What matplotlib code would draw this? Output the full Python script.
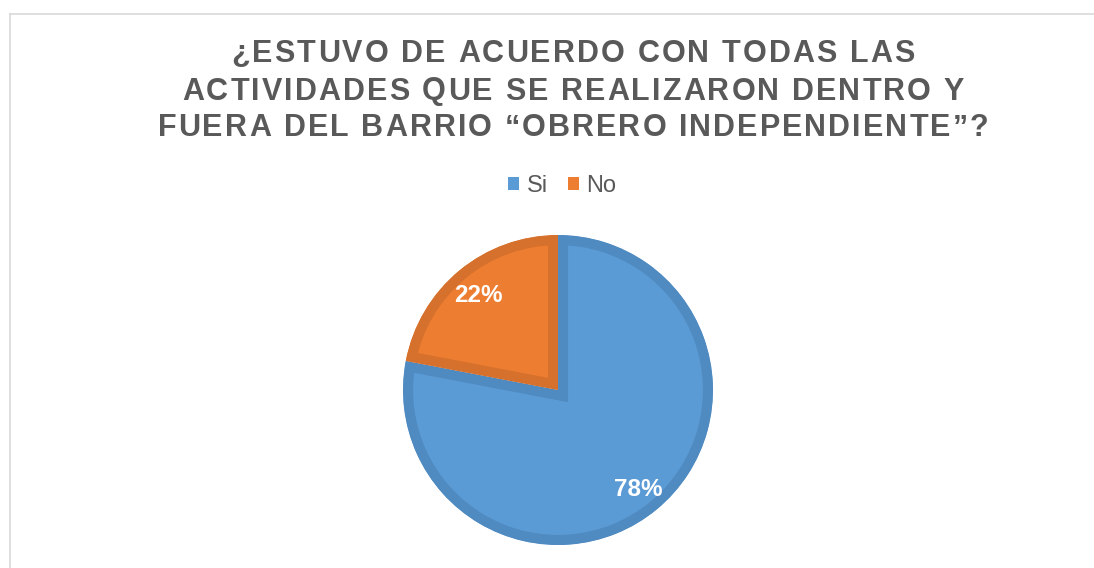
import matplotlib
matplotlib.use("Agg")
import matplotlib.pyplot as plt
from matplotlib.patches import Patch
from matplotlib.lines import Line2D
from matplotlib.font_manager import FontProperties

# data
labels = ["Si", "No"]
values = [78, 22]
title_lines = [
    "¿ESTUVO DE ACUERDO CON TODAS LAS",
    "ACTIVIDADES QUE SE REALIZARON DENTRO Y",
    "FUERA DEL BARRIO “OBRERO INDEPENDIENTE”?",
]

fill_colors = ["#5B9BD5", "#ED7D31"]
edge_colors = ["#4F8AC1", "#D5712C"]
text_gray = "#595959"

W, H = 1094, 568
fig = plt.figure(figsize=(W / 100, H / 100), dpi=100)

# chart frame (only left and top edges visible in the crop)
fig.add_artist(Line2D([9.5 / W, 9.5 / W], [0, 1 - 13.5 / H], transform=fig.transFigure,
                      color="#D9D9D9", lw=1.2))
fig.add_artist(Line2D([9.5 / W, 1], [1 - 13.5 / H, 1 - 13.5 / H], transform=fig.transFigure,
                      color="#D9D9D9", lw=1.2))

# pie axes: centre (558, 390) px, radius 155 px
cx, cy, R = 558, 390, 155
half = 1.1 * R
ax = fig.add_axes([(cx - half) / W, (H - cy - half) / H, 2 * half / W, 2 * half / H])
wedges, texts, autotexts = ax.pie(
    values, colors=fill_colors, startangle=90, counterclock=False,
    autopct="%1.0f%%", pctdistance=0.81,
    textprops=dict(color="white", fontsize=17.5, fontweight="bold", family="Liberation Sans",
                   va="center_baseline"),
)
for w, ec in zip(wedges, edge_colors):
    # thick border drawn only on the inside of each slice
    w.set_edgecolor(ec)
    w.set_linewidth(14.5)
    w.set_clip_on(True)
    w.set_clip_path(w.get_path(), w.get_transform())
ax.set_xlim(-1.1, 1.1)
ax.set_ylim(-1.1, 1.1)
ax.set_aspect("auto")
ax.axis("off")

# title with letter spacing, drawn char by char
renderer = fig.canvas.get_renderer()
prop = FontProperties(family="Liberation Sans", weight="bold", size=22)


def char_widths(s):
    return [renderer.get_text_width_height_descent(c, prop, ismath=False)[0] for c in s]


last = title_lines[-1]
spacing = (831 - sum(char_widths(last))) / (len(last) - 1)
baselines = [62, 99.5, 136.5]
for line, yb in zip(title_lines, baselines):
    ws = char_widths(line)
    total = sum(ws) + spacing * (len(line) - 1)
    x = 573 - total / 2
    for c, w in zip(line, ws):
        fig.text(x / W, 1 - yb / H, c, fontproperties=prop, color=text_gray,
                 ha="left", va="baseline")
        x += w + spacing

# legend
handles = [Patch(facecolor=c, edgecolor="none") for c in fill_colors]
fig.legend(handles, labels, loc="center", bbox_to_anchor=(562 / W, 1 - 186 / H),
           ncol=2, frameon=False, handlelength=0.48, handleheight=0.48,
           handletextpad=0.3, columnspacing=0.85,
           prop=FontProperties(family="Liberation Sans", size=17), labelcolor=text_gray)

fig.savefig("out.png", dpi=100)
